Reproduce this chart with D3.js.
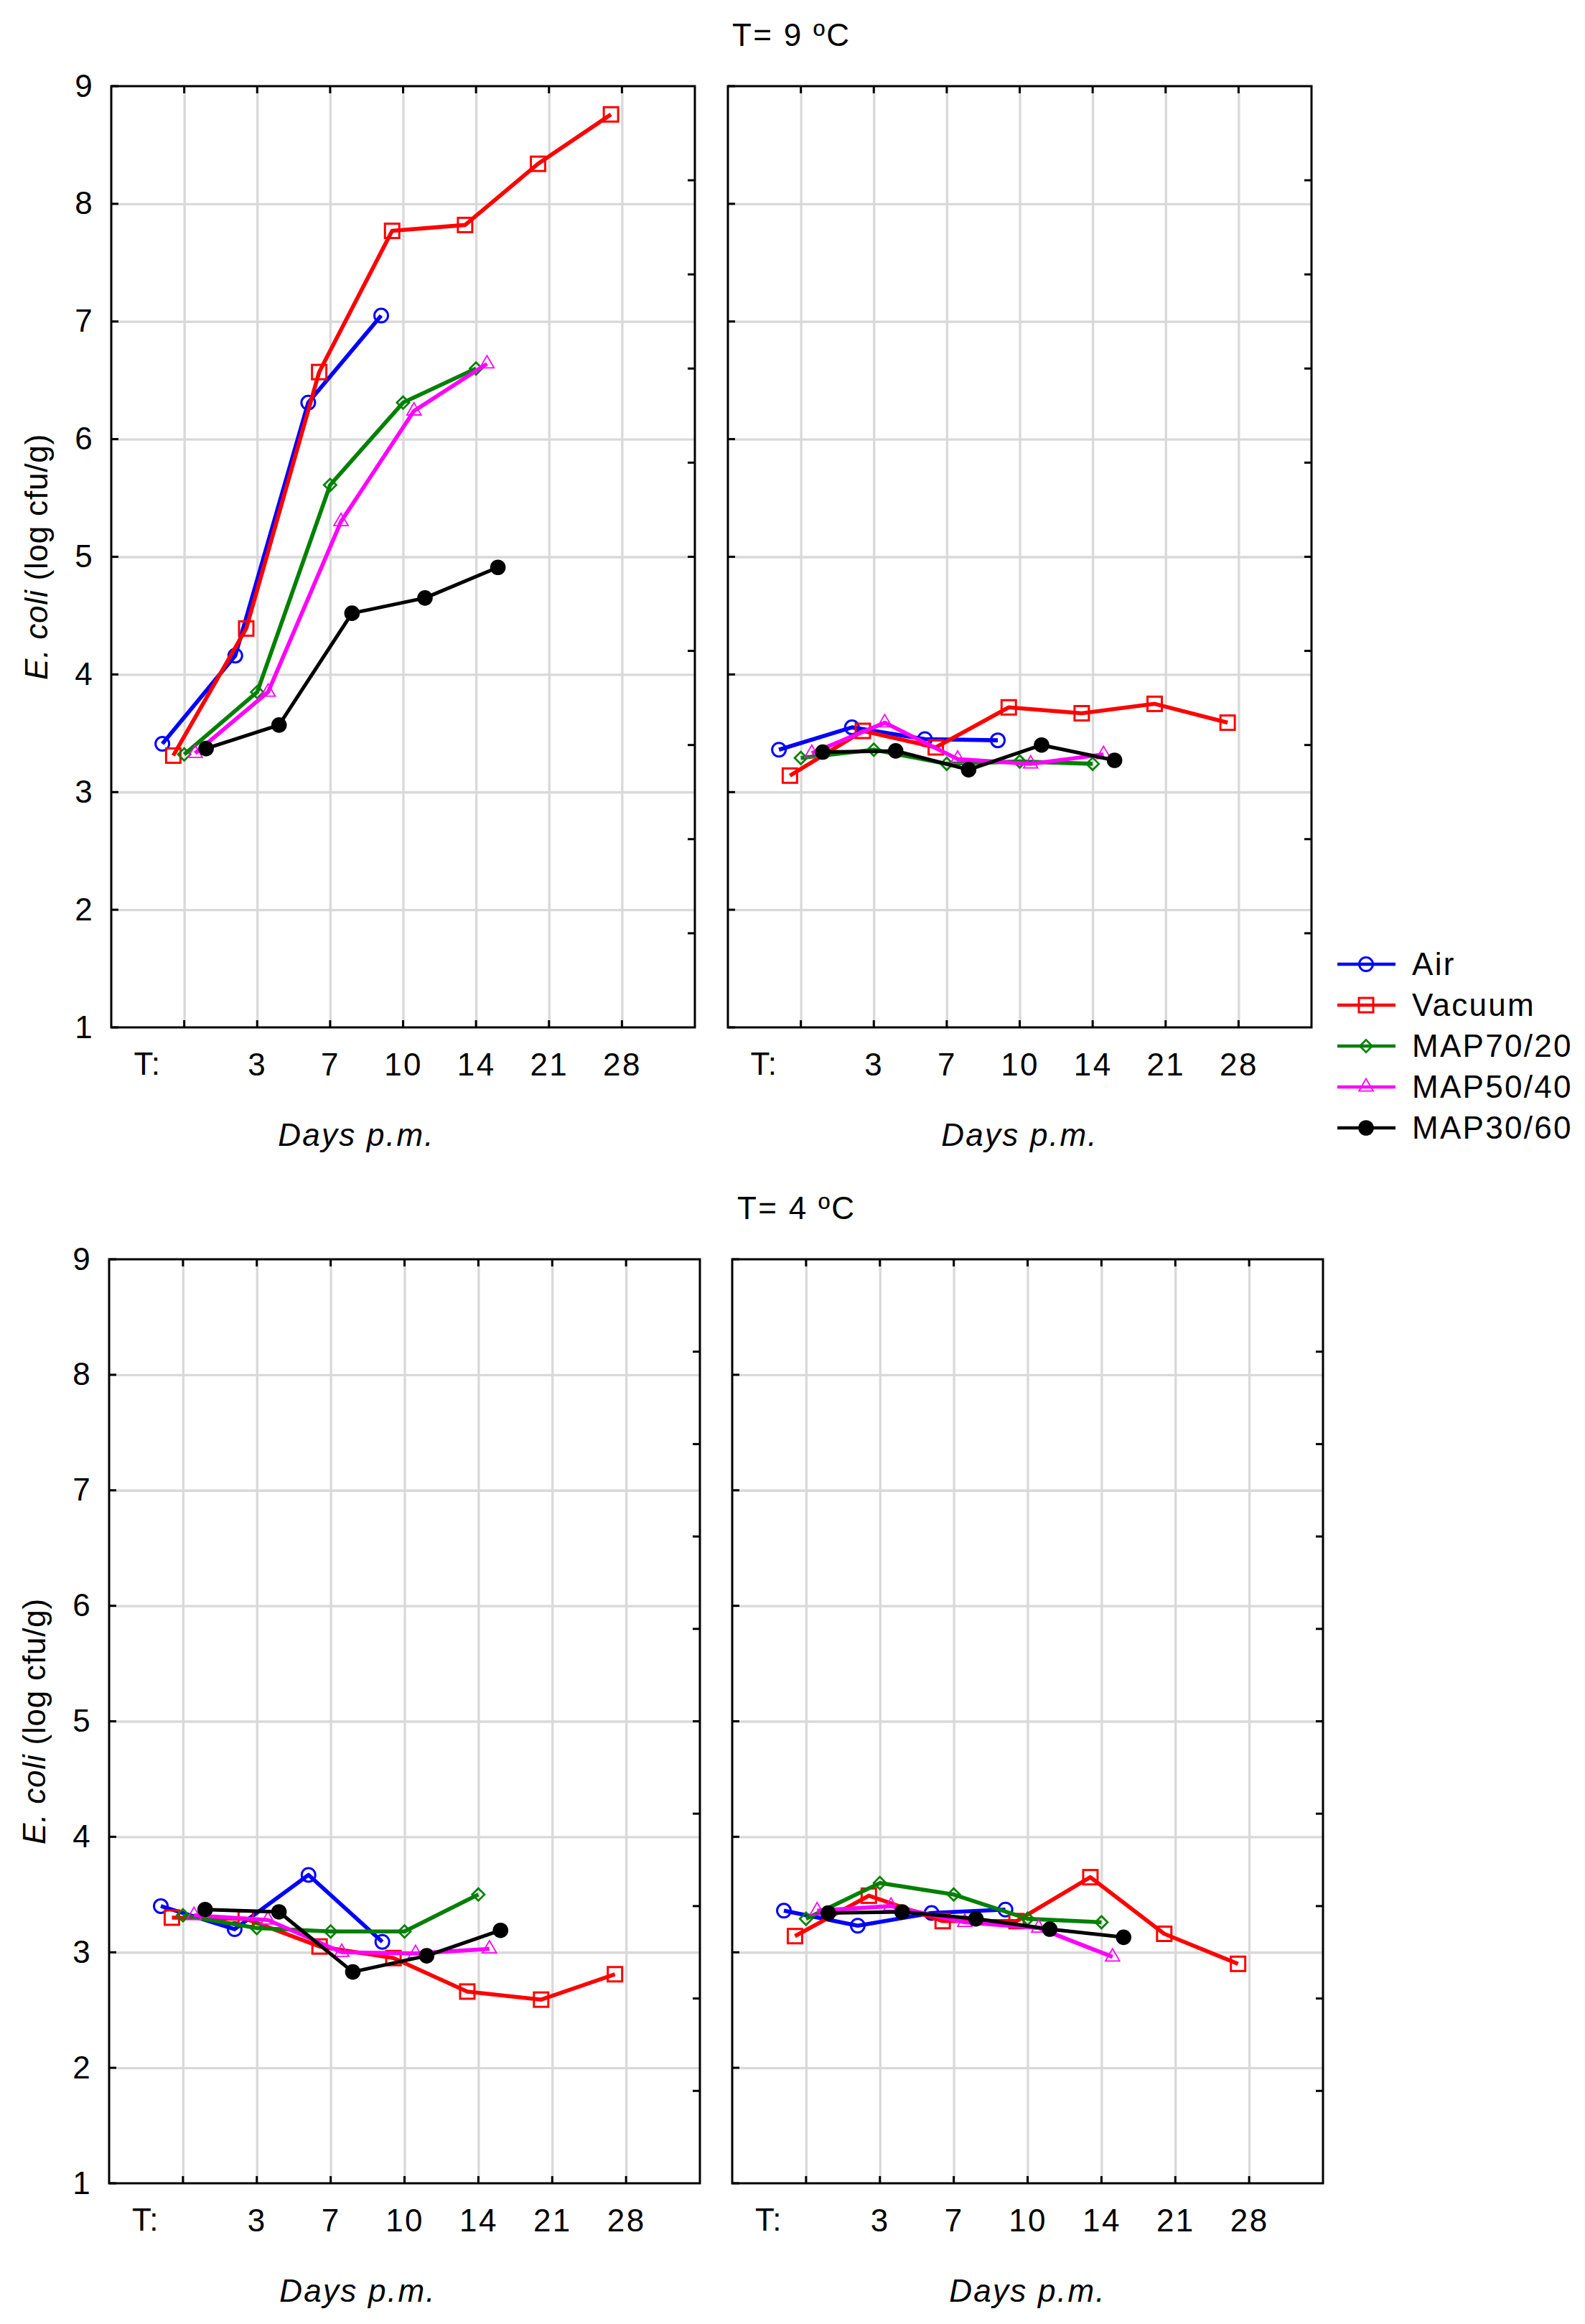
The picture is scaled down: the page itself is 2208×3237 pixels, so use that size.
<!DOCTYPE html>
<html>
<head>
<meta charset="utf-8">
<script src="https://cdn.jsdelivr.net/npm/d3@7"></script>
<style>
  body { margin: 0; background: #fff; }
  svg text { font-family: "Liberation Sans", Arial, sans-serif; fill: #000; letter-spacing: 2.3px; }
</style>
</head>
<body>
<svg id="chart" width="2208" height="3237"></svg>
<script>
// days post mortem, first gridline is day 0 (not labelled)
var days = [0, 3, 7, 10, 14, 21, 28];
var dayLabels = ['', '3', '7', '10', '14', '21', '28'];
var yTicks = [1, 2, 3, 4, 5, 6, 7, 8, 9];
var rightTicks = [1.8, 2.6, 3.4, 4.2, 5.0, 5.8, 6.6, 7.4, 8.2];
var seriesNames = ['Air', 'Vacuum', 'MAP70/20', 'MAP50/40', 'MAP30/60'];
var seriesColors = ['#0000ff', '#ff0000', '#008000', '#ff00ff', '#000000'];
var seriesMarkers = ['circle', 'square', 'diamond', 'triangle', 'dot'];
var titles = ['T= 9 ºC', 'T= 4 ºC'];

// T = 9 ºC, left panel
var airA = [3.41, 4.16, 6.31, 7.05];
var vacA = [3.31, 4.39, 6.57, 7.77, 7.82, 8.34, 8.76];
var m70A = [3.32, 3.85, 5.61, 6.31, 6.60];
var m50A = [3.33, 3.85, 5.30, 6.24, 6.64];
var m30A = [3.37, 3.57, 4.52, 4.65, 4.91];

// T = 9 ºC, right panel
var airB = [3.36, 3.55, 3.45, 3.44];
var vacB = [3.14, 3.52, 3.38, 3.72, 3.67, 3.75, 3.59];
var m70B = [3.29, 3.36, 3.24, 3.26, 3.24];
var m50B = [3.33, 3.59, 3.28, 3.24, 3.32];
var m30B = [3.34, 3.35, 3.19, 3.40, 3.27];

// T = 4 ºC, left panel
var airC = [3.40, 3.20, 3.67, 3.09];
var vacC = [3.30, 3.29, 3.05, 2.95, 2.66, 2.59, 2.81];
var m70C = [3.32, 3.21, 3.18, 3.18, 3.50];
var m50C = [3.32, 3.28, 3.00, 2.99, 3.03];
var m30C = [3.37, 3.35, 2.83, 2.97, 3.19];

// T = 4 ºC, right panel
var airD = [3.36, 3.23, 3.34, 3.37];
var vacD = [3.14, 3.49, 3.27, 3.27, 3.65, 3.16, 2.90];
var m70D = [3.29, 3.60, 3.50, 3.29, 3.26];
var m50D = [3.36, 3.40, 3.26, 3.21, 2.96];
var m30D = [3.34, 3.35, 3.29, 3.20, 3.13];

// horizontal shift of each series, in gridline steps
var seriesShift = [-0.3, -0.15, 0, 0.15, 0.3];

var svg = d3.select('#chart');
svg.append('rect').attr('width', 2208).attr('height', 3237).attr('fill', '#fff');

var panels = [
    {x: 155, y: 120, w: 813, h: 1311, left: true, values: [airA, vacA, m70A, m50A, m30A]},
    {x: 1014, y: 120, w: 813, h: 1311, left: false, values: [airB, vacB, m70B, m50B, m30B]},
    {x: 152, y: 1754, w: 823, h: 1287, left: true, values: [airC, vacC, m70C, m50C, m30C]},
    {x: 1020, y: 1754, w: 823, h: 1287, left: false, values: [airD, vacD, m70D, m50D, m30D]}
];

var fontSize = 44;

//draw one marker at (0,0) inside g
var drawMarker = function(g, type, color) {
    if (type === 'circle') {
        g.append('circle').attr('r', 9.5).attr('fill', 'none').attr('stroke', color).attr('stroke-width', 3);
    } else if (type === 'square') {
        g.append('rect').attr('x', -10).attr('y', -10).attr('width', 20).attr('height', 20)
            .attr('fill', 'none').attr('stroke', color).attr('stroke-width', 3);
    } else if (type === 'diamond') {
        g.append('path').attr('d', d3.symbol(d3.symbolDiamond2, 190)())
            .attr('fill', 'none').attr('stroke', color).attr('stroke-width', 2.7);
    } else if (type === 'triangle') {
        g.append('path').attr('d', d3.symbol(d3.symbolTriangle, 170)())
            .attr('fill', 'none').attr('stroke', color).attr('stroke-width', 1.8);
    } else {
        g.append('circle').attr('r', 10.8).attr('fill', color);
    }
};

panels.forEach(function(p) {
    var g = svg.append('g').attr('transform', 'translate(' + p.x + ',' + p.y + ')');

    var x = d3.scalePoint().domain(days).range([0, p.w]).padding(1);
    var y = d3.scaleLinear().domain([1, 9]).range([p.h, 0]);
    var step = x.step();

    // grid
    var gx = g.append('g').call(d3.axisBottom(x).tickSize(p.h).tickFormat(''));
    var gy = g.append('g').call(d3.axisLeft(y).tickValues(yTicks.slice(1, -1)).tickSize(-p.w).tickFormat(''));
    [gx, gy].forEach(function(a) {
        a.select('.domain').remove();
        a.selectAll('line').attr('stroke', '#d9d9d9').attr('stroke-width', 3.3);
    });

    // inner ticks
    var ticks = g.append('g').attr('stroke', '#000').attr('stroke-width', 3);
    ticks.selectAll('.tb').data(days).enter().append('line')
        .attr('x1', function(d) { return x(d); }).attr('x2', function(d) { return x(d); })
        .attr('y1', p.h).attr('y2', p.h - 10);
    ticks.selectAll('.tt').data(days).enter().append('line')
        .attr('x1', function(d) { return x(d); }).attr('x2', function(d) { return x(d); })
        .attr('y1', 0).attr('y2', 10);
    ticks.selectAll('.tl').data(yTicks).enter().append('line')
        .attr('x1', 0).attr('x2', 10)
        .attr('y1', function(d) { return y(d); }).attr('y2', function(d) { return y(d); });
    ticks.selectAll('.tr').data(rightTicks).enter().append('line')
        .attr('x1', p.w).attr('x2', p.w - 10)
        .attr('y1', function(d) { return y(d); }).attr('y2', function(d) { return y(d); });

    // series
    p.values.forEach(function(vals, si) {
        var pts = vals.map(function(v, i) { return [x(days[i]) + seriesShift[si] * step, y(v)]; });
        g.append('path')
            .attr('d', d3.line()(pts))
            .attr('fill', 'none')
            .attr('stroke', seriesColors[si])
            .attr('stroke-width', si === 4 ? 5 : 5.6)
            .attr('stroke-linejoin', 'round');
        pts.forEach(function(pt) {
            var m = g.append('g').attr('transform', 'translate(' + pt[0] + ',' + pt[1] + ')');
            drawMarker(m, seriesMarkers[si], seriesColors[si]);
        });
    });

    // frame
    g.append('rect').attr('width', p.w).attr('height', p.h)
        .attr('fill', 'none').attr('stroke', '#000').attr('stroke-width', 3);

    // x tick labels
    var xa = g.append('g').attr('transform', 'translate(0,' + p.h + ')')
        .call(d3.axisBottom(x).tickSize(0).tickPadding(36).tickFormat(function(d, i) { return dayLabels[i]; }));
    xa.select('.domain').remove();
    xa.selectAll('text').attr('font-size', fontSize).attr('font-family', null).attr('fill', '#000');
    g.append('text').attr('x', step / 2).attr('y', p.h + 51)
        .attr('dy', '0.35em').attr('text-anchor', 'middle').attr('font-size', fontSize).text('T:');

    g.append('text')
        .attr('x', p.w / 2 + (p.left ? -65 : 0)).attr('y', p.h + 165)
        .attr('text-anchor', 'middle').attr('font-size', fontSize).attr('font-style', 'italic')
        .text('Days p.m.');

    if (p.left) {
        var ya = g.append('g').call(d3.axisLeft(y).tickValues(yTicks).tickSize(0).tickPadding(24));
        ya.select('.domain').remove();
        ya.selectAll('text').attr('font-size', fontSize).attr('font-family', null).attr('fill', '#000');

        var lab = g.append('text')
            .attr('transform', 'translate(-89,' + (p.h / 2) + ') rotate(-90)')
            .attr('text-anchor', 'middle').attr('font-size', fontSize).style('letter-spacing', '0.8px');
        lab.append('tspan').attr('font-style', 'italic').text('E. coli');
        lab.append('tspan').text(' (log cfu/g)');
    }
});

// row titles
svg.append('text').attr('x', 1020).attr('y', 64).attr('font-size', fontSize).text(titles[0]);
svg.append('text').attr('x', 1027).attr('y', 1698).attr('font-size', fontSize).text(titles[1]);

// legend
var legend = svg.append('g').attr('transform', 'translate(1863,1343)');
seriesNames.forEach(function(name, i) {
    var row = legend.append('g').attr('transform', 'translate(0,' + (i * 57) + ')');
    row.append('line').attr('x1', 0).attr('x2', 81)
        .attr('stroke', seriesColors[i]).attr('stroke-width', 4.7);
    var m = row.append('g').attr('transform', 'translate(40,0)');
    drawMarker(m, seriesMarkers[i], seriesColors[i]);
    row.append('text').attr('x', 104).attr('dy', '0.35em').attr('font-size', fontSize).text(name);
});
</script>
</body>
</html>
